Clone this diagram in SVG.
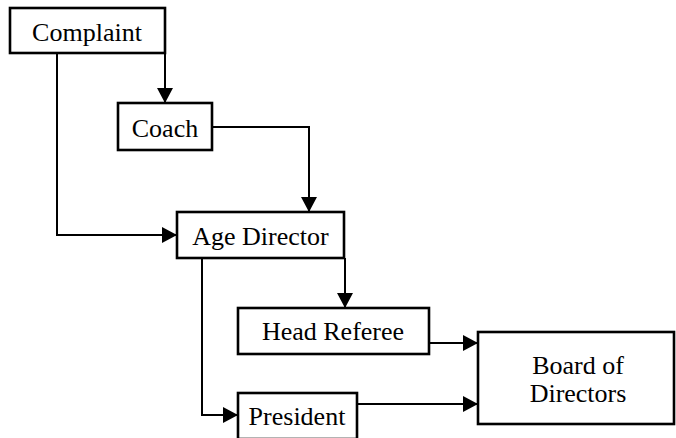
<svg xmlns="http://www.w3.org/2000/svg" width="676" height="438" viewBox="0 0 676 438">
<defs>
<marker id="arr" markerUnits="userSpaceOnUse" markerWidth="16" markerHeight="16" viewBox="0 0 16 16" refX="15" refY="8" orient="auto">
<path d="M0,0 L15,8 L0,16 Z" fill="#000"/>
</marker>
</defs>
<style>
.box{fill:#fff;stroke:#000;stroke-width:2.6}
.lbl{font-family:"Times New Roman","Liberation Serif",Tinos,"DejaVu Serif",serif;font-size:26px;fill:#000;text-anchor:middle}
.ln{fill:none;stroke:#000;stroke-width:2}
</style>
<rect width="676" height="438" fill="#fff"/>
<g id="connectors">
<path class="ln" d="M57,53 V235 H177" marker-end="url(#arr)"/>
<path class="ln" d="M165,53 V103" marker-end="url(#arr)"/>
<path class="ln" d="M212,127 H309 V212" marker-end="url(#arr)"/>
<path class="ln" d="M345,258 V308" marker-end="url(#arr)"/>
<path class="ln" d="M202,258 V415 H238" marker-end="url(#arr)"/>
<path class="ln" d="M429,343 H478" marker-end="url(#arr)"/>
<path class="ln" d="M357,404 H478" marker-end="url(#arr)"/>
</g>
<g id="complaint">
<rect class="box" x="10" y="8" width="155" height="45"/>
<text class="lbl" x="87" y="41">Complaint</text>
</g>
<g id="coach">
<rect class="box" x="118" y="103" width="94" height="47"/>
<text class="lbl" x="165" y="137">Coach</text>
</g>
<g id="age-director">
<rect class="box" x="177" y="212" width="167" height="46"/>
<text class="lbl" x="260.5" y="245">Age Director</text>
</g>
<g id="head-referee">
<rect class="box" x="238" y="308" width="191" height="46"/>
<text class="lbl" x="333" y="340">Head Referee</text>
</g>
<g id="president">
<rect class="box" x="238" y="393" width="119" height="46"/>
<text class="lbl" x="297" y="425">President</text>
</g>
<g id="board">
<rect class="box" x="478" y="332" width="196" height="92"/>
<text class="lbl" x="578" y="374">Board of</text>
<text class="lbl" x="578" y="402">Directors</text>
</g>
</svg>
